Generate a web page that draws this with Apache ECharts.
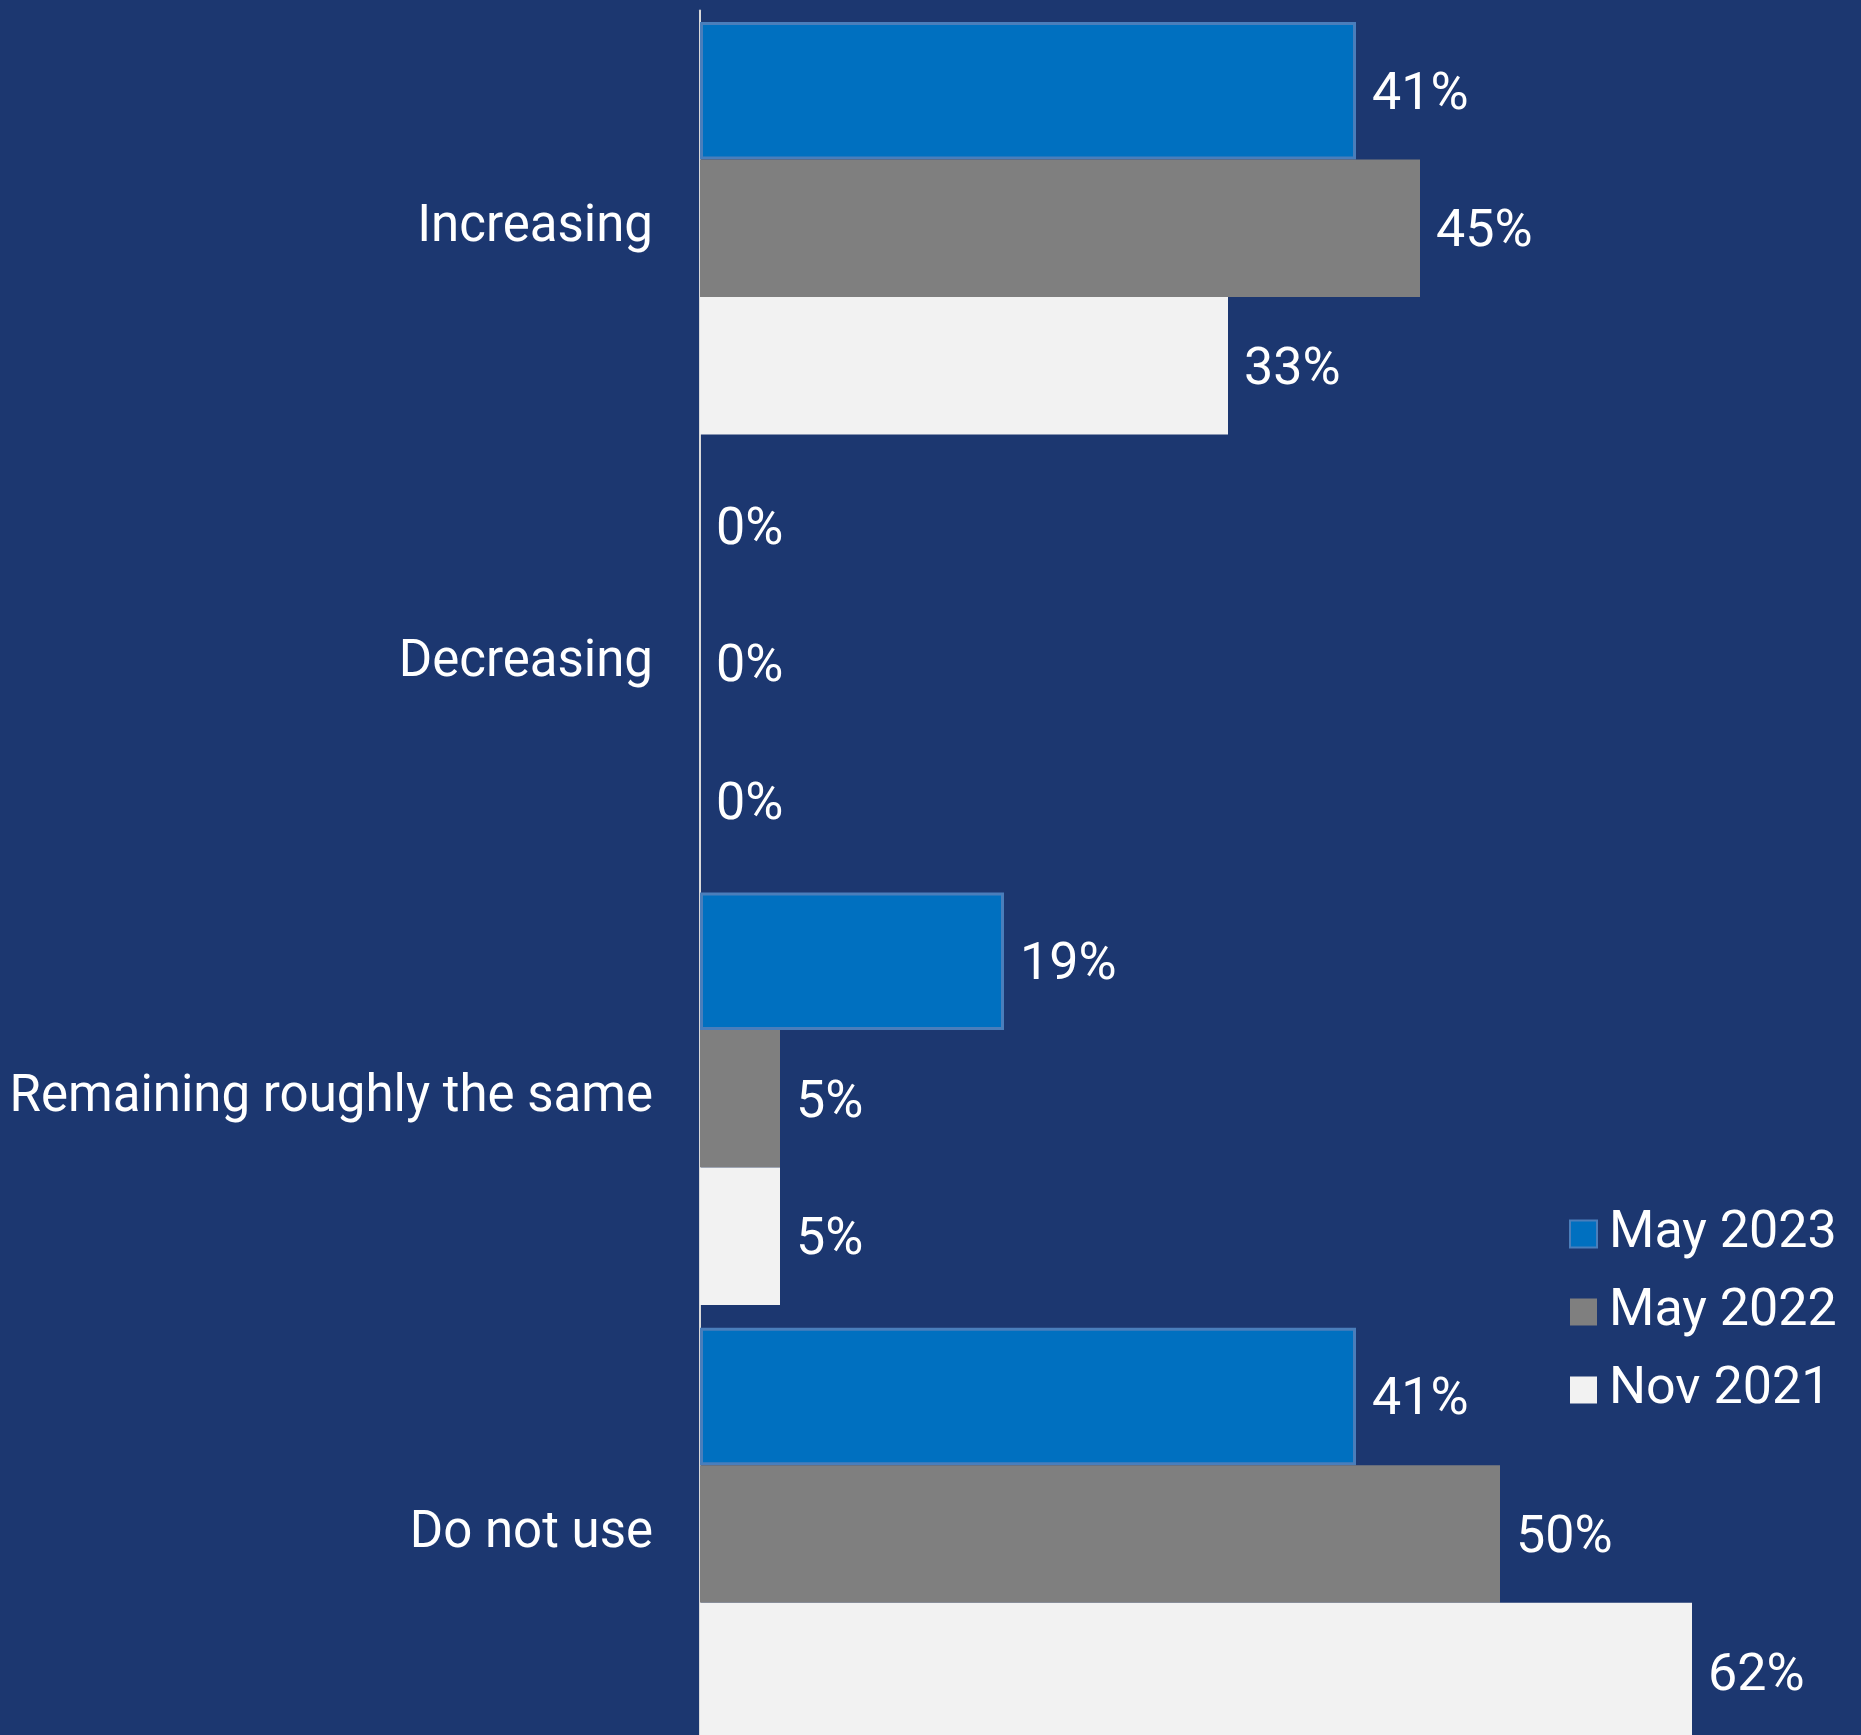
<!DOCTYPE html>
<html>
<head>
<meta charset="utf-8">
<title>Usage trend</title>
<script src="https://cdn.jsdelivr.net/npm/echarts@6/dist/echarts.min.js"></script>
<style>
  html, body { margin: 0; padding: 0; background: #1c3770; }
  #chart { width: 1861px; height: 1735px; }
</style>
</head>
<body>
<div id="chart"></div>
<script>
// Answer categories, top to bottom
const categories = ['Increasing', 'Decreasing', 'Remaining roughly the same', 'Do not use'];

// Survey waves and their shares (%)
const seriesNames = ['May 2023', 'May 2022', 'Nov 2021'];
const may2023 = [41, 0, 19, 41];
const may2022 = [45, 0, 5, 50];
const nov2021 = [33, 0, 5, 62];

const FONT = 'Roboto, "Liberation Sans", sans-serif';

const labelStyle = {
  show: true,
  position: 'right',
  distance: 16,
  offset: [0, 5],
  color: '#ffffff',
  fontSize: 52,
  fontFamily: FONT,
  formatter: p => p.value + '%'
};

// Zero-length bars get no outline so nothing is drawn beside the axis
function barSeries(name, values, itemStyle) {
  return {
    name: name,
    type: 'bar',
    data: values.map(v => v === 0 ? { value: v, itemStyle: { borderWidth: 0 } } : v),
    barGap: '0%',
    barCategoryGap: '5.2%',
    itemStyle: itemStyle,
    label: labelStyle,
    emphasis: { disabled: true }
  };
}

const chart = echarts.init(document.getElementById('chart'), null, { renderer: 'canvas' });
chart.setOption({
  backgroundColor: '#1c3770',
  animation: false,
  grid: {
    left: 700, top: 10.6, width: 1120, height: 1741,
    containLabel: false,
    outerBoundsMode: 'none'
  },
  xAxis: {
    type: 'value',
    min: 0,
    max: 70,
    show: false
  },
  yAxis: {
    type: 'category',
    data: categories,
    inverse: true,
    axisLine: { show: true, lineStyle: { color: '#d9d9d9', width: 2 } },
    axisTick: { show: false },
    axisLabel: {
      color: '#ffffff',
      fontSize: 51,
      fontFamily: FONT,
      margin: 47,
      lineHeight: 56,
      padding: [6, 0, 0, 0]
    }
  },
  legend: {
    orient: 'vertical',
    left: 1564,
    top: 1203,
    itemWidth: 27,
    itemHeight: 27,
    itemGap: 26,
    icon: 'rect',
    selectedMode: false,
    textStyle: { color: '#ffffff', fontSize: 52, fontFamily: FONT, lineHeight: 50, padding: [0, 0, 0, 7] },
    data: seriesNames
  },
  series: [
    barSeries(seriesNames[0], may2023, { color: '#0070c0', borderColor: '#4a7ebb', borderWidth: 3 }),
    barSeries(seriesNames[1], may2022, { color: '#7f7f7f' }),
    barSeries(seriesNames[2], nov2021, { color: '#f2f2f2' })
  ]
});
</script>
</body>
</html>
